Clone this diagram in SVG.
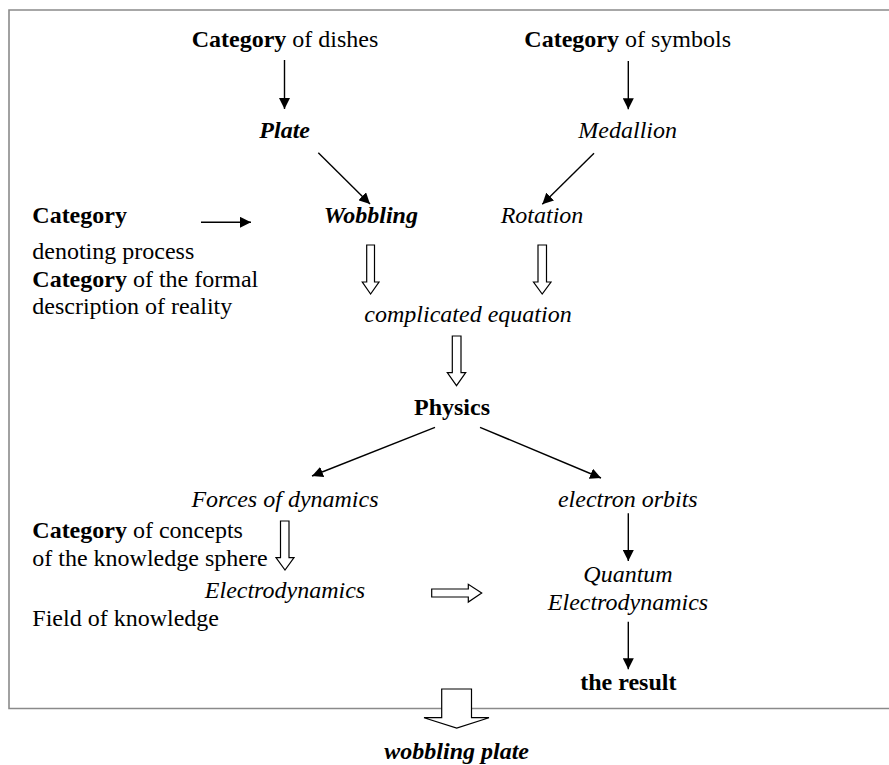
<svg xmlns="http://www.w3.org/2000/svg" width="889" height="765" viewBox="0 0 889 765">
<defs>
<marker id="ah" markerUnits="userSpaceOnUse" markerWidth="11" markerHeight="11" refX="11" refY="5.5" orient="auto">
<path d="M0,0 L11,5.5 L0,11 z" fill="#000"/>
</marker>
<style>
text{font-family:"Liberation Serif","Times New Roman",serif;font-size:24px;fill:#000}
.b{font-weight:bold}
.i{font-style:italic}
.m{text-anchor:middle}
.c line{stroke:#000;stroke-width:1.4;marker-end:url(#ah)}
.h{fill:#fff;stroke:#000;stroke-width:1.2}
.frame{fill:none;stroke:#8a8a8a;stroke-width:1.6}
</style>
</defs>
<rect width="889" height="765" fill="#fff"/>
<path class="frame" d="M889,10 H9 V708.5 H889"/>

<g id="n-dishes"><text x="285" y="46.7" class="m"><tspan class="b">Category</tspan> of dishes</text></g>
<g id="n-symbols"><text x="627.7" y="46.7" class="m"><tspan class="b">Category</tspan> of symbols</text></g>
<g id="n-plate"><text x="284.7" y="138.3" class="m b i">Plate</text></g>
<g id="n-medallion"><text x="627.7" y="138.3" class="m i">Medallion</text></g>
<g id="n-wobbling"><text x="370.8" y="222.7" class="m b i">Wobbling</text></g>
<g id="n-rotation"><text x="542" y="222.7" class="m i">Rotation</text></g>
<g id="n-cat-process"><text x="32.3" y="223"><tspan class="b">Category</tspan></text><text x="32.3" y="258.5">denoting process</text></g>
<g id="n-cat-formal"><text x="32.3" y="286.7"><tspan class="b">Category</tspan> of the formal</text><text x="32.3" y="314">description of reality</text></g>
<g id="n-equation"><text x="468" y="321.7" class="m i">complicated equation</text></g>
<g id="n-physics"><text x="452" y="415" class="m b">Physics</text></g>
<g id="n-forces"><text x="285" y="506.7" class="m i">Forces of dynamics</text></g>
<g id="n-electron"><text x="627.8" y="506.7" class="m i">electron orbits</text></g>
<g id="n-cat-concepts"><text x="32.3" y="538.3"><tspan class="b">Category</tspan> of concepts</text><text x="32.3" y="566">of the knowledge sphere</text></g>
<g id="n-electrodynamics"><text x="285" y="597.7" class="m i">Electrodynamics</text></g>
<g id="n-field"><text x="32.3" y="625.7">Field of knowledge</text></g>
<g id="n-qed"><text x="628" y="581.7" class="m i">Quantum</text><text x="628" y="610" class="m i">Electrodynamics</text></g>
<g id="n-result"><text x="628.3" y="690" class="m b">the result</text></g>
<g id="n-wobbling-plate"><text x="456.7" y="759" class="m b i">wobbling plate</text></g>

<g id="connectors" class="c">
<line x1="284.5" y1="60" x2="284.5" y2="109"/>
<line x1="628.3" y1="61" x2="628.3" y2="109.3"/>
<line x1="318.3" y1="152.7" x2="370" y2="204"/>
<line x1="594" y1="153.3" x2="542.3" y2="204.3"/>
<line x1="201" y1="222.3" x2="251" y2="222.3"/>
<line x1="435" y1="427.3" x2="312" y2="476"/>
<line x1="480" y1="427.3" x2="601" y2="478"/>
<line x1="628.3" y1="513.3" x2="628.3" y2="561"/>
<line x1="628.3" y1="621.7" x2="628.3" y2="669.3"/>
<polygon class="h" points="366.7,245 374.5,245 374.5,282 379,282 370.6,294 362.3,282 366.7,282"/>
<polygon class="h" points="538,245 546.5,245 546.5,282 551,282 542.2,294 533.5,282 538,282"/>
<polygon class="h" points="452.3,336 461,336 461,372.7 465.7,372.7 456.5,385.7 447.3,372.7 452.3,372.7"/>
<polygon class="h" points="280.5,521 289,521 289,557.7 294,557.7 285,570 276,557.7 280.5,557.7"/>
<polygon class="h" points="431.7,589 468.3,589 468.3,584.3 481.7,593 468.3,602 468.3,597 431.7,597"/>
<polygon class="h" points="441.7,689 471.5,689 471.5,717.7 489,717.7 456.7,728 424,717.7 441.7,717.7"/>
</g>
</svg>
